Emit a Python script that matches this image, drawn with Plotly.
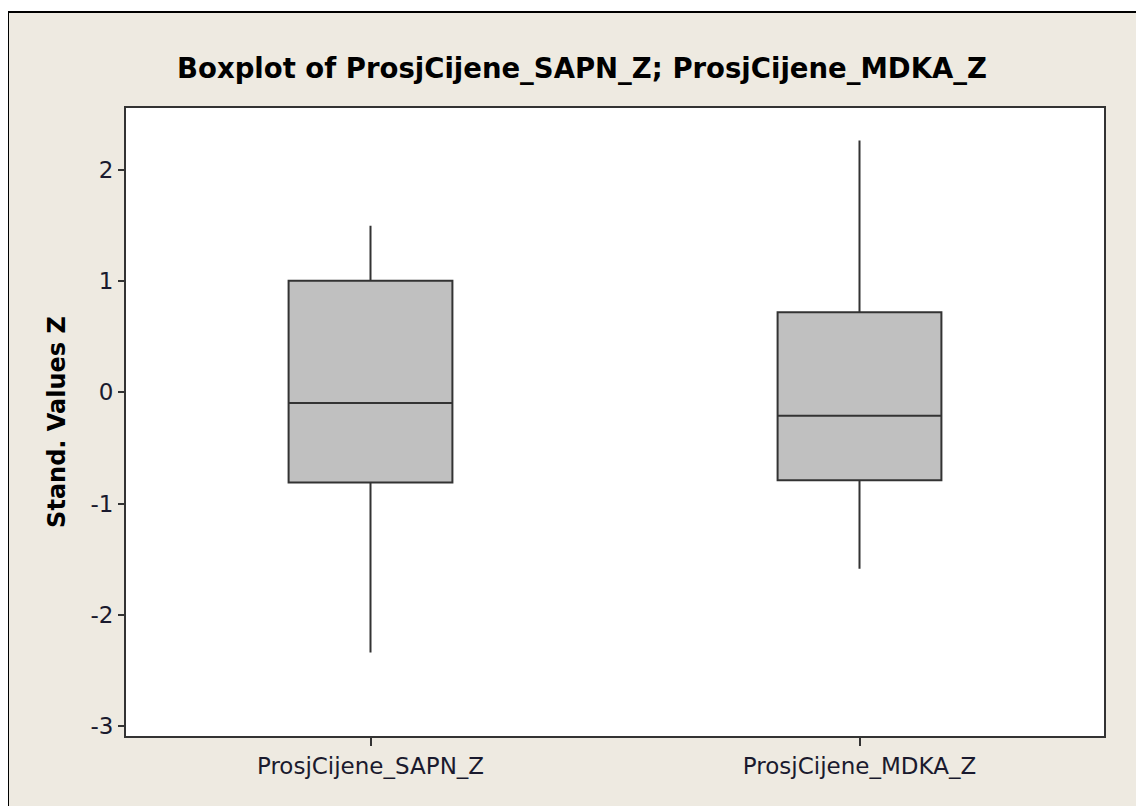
import plotly.graph_objects as go

# ---- data ----
categories = ["ProsjCijene_SAPN_Z", "ProsjCijene_MDKA_Z"]
q1_vals = [-0.81, -0.79]
median_vals = [-0.095, -0.21]
q3_vals = [1.005, 0.72]
lower_whisker = [-2.34, -1.585]
upper_whisker = [1.50, 2.265]
y_ticks = [-3, -2, -1, 0, 1, 2]
y_tick_text = ["-3", "-2", "-1", "0", "1", "2"]

# ---- layout constants (page pixels minus the 8px body margin) ----
OFF = 8
W, H = 1144, 806
ML = 126 - OFF
MT = 108 - OFF
MR = W - (1104 - OFF)
MB = H - (736 - OFF)
PW, PH = W - ML - MR, H - MT - MB
BG = "#EEEAE1"
LINE = "#333333"

fig = go.Figure()
fig.add_trace(go.Box(
    x=categories,
    q1=q1_vals,
    median=median_vals,
    q3=q3_vals,
    lowerfence=lower_whisker,
    upperfence=upper_whisker,
    boxpoints=False,
    width=0.335,
    whiskerwidth=0,
    fillcolor="#C0C0C0",
    line=dict(color=LINE, width=2),
    showlegend=False,
))


def px_to_paper_x(px):
    return (px - OFF - ML) / PW


def px_to_paper_y(py):
    return (H - MB - (py - OFF)) / PH


# outer beige graph region with black border (Minitab-style)
fig.add_shape(
    type="rect", xref="paper", yref="paper", layer="below",
    x0=px_to_paper_x(8), x1=px_to_paper_x(W + 40),
    y0=px_to_paper_y(H + 40), y1=px_to_paper_y(12),
    fillcolor=BG, line=dict(color="#000000", width=2),
)
# white data region
fig.add_shape(
    type="rect", xref="paper", yref="paper", layer="below",
    x0=0, x1=1, y0=0, y1=1,
    fillcolor="#FFFFFF", line=dict(width=0),
)

fig.update_layout(
    width=W, height=H,
    margin=dict(l=ML, r=MR, t=MT, b=MB, pad=0),
    paper_bgcolor="#FFFFFF",
    plot_bgcolor="#FFFFFF",
    font=dict(family="DejaVu Sans", color="#1a1a2e"),
    title=dict(
        text="<b>Boxplot of ProsjCijene_SAPN_Z; ProsjCijene_MDKA_Z</b>",
        font=dict(family="DejaVu Sans", size=27.5, color="#000000"),
        x=(582 - OFF) / W, xanchor="center",
        y=1 - (68 - OFF) / H, yanchor="middle",
    ),
    xaxis=dict(
        type="category",
        range=[-0.5, 1.5],
        showline=True, linecolor=LINE, linewidth=2, mirror=True,
        ticks="outside", ticklen=8, tickcolor=LINE, tickwidth=2,
        showgrid=False, zeroline=False,
        tickfont=dict(size=23, color="#1a1a2e"),
    ),
    yaxis=dict(
        range=[-3.09, 2.558],
        tickvals=y_ticks,
        ticktext=y_tick_text,
        showline=True, linecolor=LINE, linewidth=2, mirror=True,
        ticks="outside", ticklen=6, tickcolor=LINE, tickwidth=2,
        showgrid=False, zeroline=False,
        tickfont=dict(size=23, color="#1a1a2e"),
        title=dict(
            text="<b>Stand. Values Z</b>",
            font=dict(size=24, color="#000000"),
            standoff=18,
        ),
    ),
)

fig.write_html("out.html")
